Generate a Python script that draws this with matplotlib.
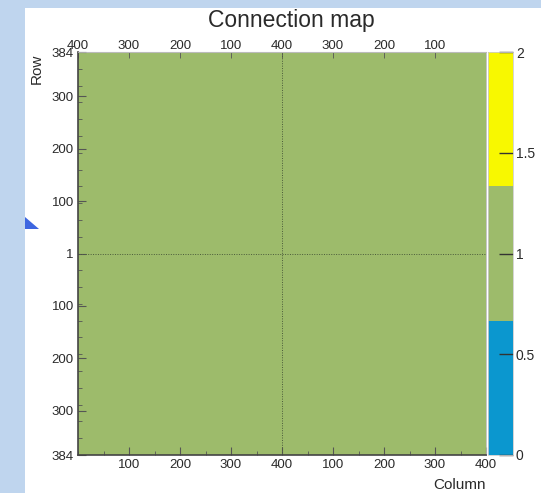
import numpy as np
import matplotlib.pyplot as plt
from matplotlib.colors import ListedColormap, BoundaryNorm
from matplotlib.patches import Rectangle, Polygon

plt.rcParams['font.family'] = ['Liberation Sans', 'DejaVu Sans']

# sensor geometry: two halves, 400 columns x 384 rows each
n_cols = 400
n_rows = 384
col_labels = [100, 200, 300, 400]
row_labels = [100, 200, 300, 384]
cbar_ticks = [0, 0.5, 1, 1.5, 2]
level_colors = ['#0b97cf', '#9dbb6b', '#f8f800']

# every pixel reports a single connection
conn = np.ones((2 * n_rows, 2 * n_cols))

fig = plt.figure(figsize=(5.41, 4.93), dpi=100)
fig.patch.set_facecolor('#bfd5ee')
W, H = 541, 493
fig.add_artist(Rectangle((25 / W, 0), 1, 1 - 8 / H, transform=fig.transFigure,
                         facecolor='white', edgecolor='none', zorder=0))
fig.add_artist(Polygon([(25 / W, 1 - 217 / H), (39 / W, 1 - 229 / H), (25 / W, 1 - 229 / H)],
                       closed=True, transform=fig.transFigure,
                       facecolor='#3d66e0', edgecolor='none', zorder=1))

ax = fig.add_axes([78 / W, 38 / H, 408 / W, 403 / H])
cmap = ListedColormap(level_colors)
norm = BoundaryNorm([0, 2 / 3, 4 / 3, 2], cmap.N)
im = ax.imshow(conn, cmap=cmap, norm=norm, origin='lower', aspect='auto',
               extent=[0, 2 * n_cols, 0, 2 * n_rows], interpolation='nearest')

ax.axvline(n_cols, color='#4a5a3a', lw=0.7, ls=(0, (1, 1.5)))
ax.axhline(n_rows, color='#4a5a3a', lw=0.7, ls=(0, (1, 1.5)))

txt = '#2a2a2a'
fs = 9.5

# bottom: columns counted up in each half
bx = [c for c in col_labels] + [n_cols + c for c in col_labels]
ax.set_xticks(bx)
ax.set_xticklabels([str(c) for c in col_labels] * 2, fontsize=fs, color=txt)
ax.set_xticks(np.arange(0, 2 * n_cols + 1, 50), minor=True)

# left: rows counted out from the centre line
ly = [n_rows - r for r in row_labels[::-1]] + [n_rows] + [n_rows + r for r in row_labels]
ax.set_yticks(ly)
ax.set_yticklabels([str(r) for r in row_labels[::-1]] + ['1'] + [str(r) for r in row_labels],
                   fontsize=fs, color=txt)
ax.set_yticks(np.arange(n_rows % 32, 2 * n_rows, 32), minor=True)

ax.tick_params(axis='both', which='both', direction='in', color='#555555', pad=3)
ax.tick_params(axis='both', which='major', length=6, width=0.8)
ax.tick_params(axis='both', which='minor', length=3, width=0.6)

# top: columns counted down in each half
top = ax.secondary_xaxis('top')
tx = [n_cols - c for c in col_labels[::-1]] + [2 * n_cols - c for c in col_labels[::-1]]
top.set_xticks(tx)
top.set_xticklabels([str(c) for c in col_labels[::-1]] * 2, fontsize=fs, color=txt)
top.tick_params(direction='in', length=4, width=0.6, color='#555555', pad=0)
top.spines['top'].set_color('#bbbbbb')

for side in ['left', 'bottom']:
    ax.spines[side].set_color('#444444')
    ax.spines[side].set_linewidth(1.2)
for side in ['top', 'right']:
    ax.spines[side].set_color('#bbbbbb')
    ax.spines[side].set_linewidth(0.6)

fig.text(291 / W, 1 - 20 / H, 'Connection map', ha='center', va='center',
         fontsize=16.5, color=txt)
fig.text(486 / W, 1 - 485 / H, 'Column', ha='right', va='center', fontsize=11, color=txt)
fig.text(37 / W, 1 - 54 / H, 'Row', ha='center', va='top', rotation=90,
         fontsize=11, color=txt)

cax = fig.add_axes([488 / W, 38 / H, 25 / W, 403 / H])
cb = fig.colorbar(im, cax=cax, ticks=cbar_ticks)
cb.set_ticklabels(['0', '0.5', '1', '1.5', '2'])
cb.minorticks_off()
cb.outline.set_edgecolor('#cccccc')
cb.outline.set_linewidth(0.6)
cax.tick_params(which='major', direction='in', length=10, width=1.0, color='#333333',
                labelsize=fs + 0.5, labelcolor=txt, pad=2)
cax.tick_params(which='minor', length=0)

fig.savefig('out.png', dpi=100, facecolor=fig.get_facecolor())
